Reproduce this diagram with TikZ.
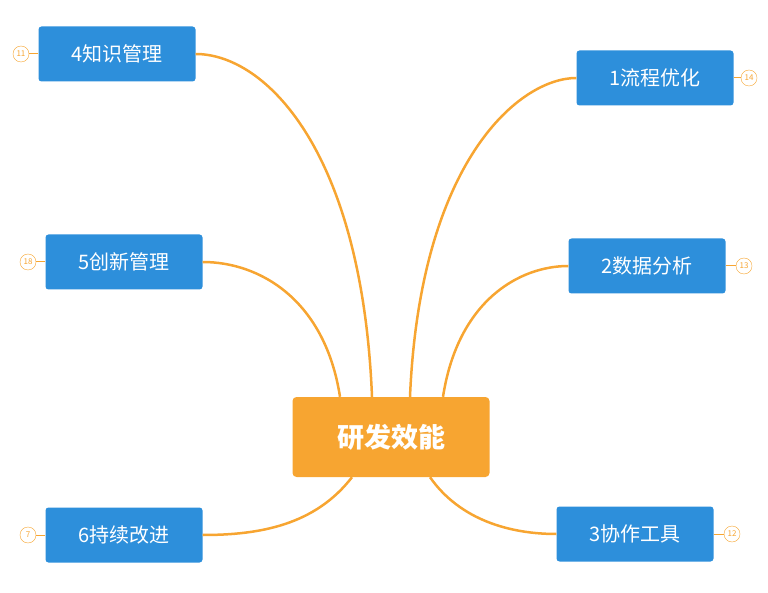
\documentclass[tikz,border=0pt]{standalone}
\usepackage{fontspec}
\setmainfont{Noto Sans CJK SC}
\usetikzlibrary{positioning,calc}
\definecolor{topicblue}{HTML}{2D8FDB}
\definecolor{rootorange}{HTML}{F7A531}
\tikzset{
  topic/.style={fill=topicblue,rounded corners=3pt,text=white,minimum width=157pt,minimum height=55pt,font=\fontsize{20}{22}\selectfont},
  root/.style={fill=rootorange,rounded corners=4pt,text=white,minimum width=197pt,minimum height=80pt,font=\fontsize{27}{30}\selectfont\bfseries},
  badge/.style={circle,draw=rootorange,fill=white,text=rootorange,inner sep=0pt,minimum size=16pt,font=\fontsize{8}{8}\selectfont},
  branch/.style={draw=rootorange,line width=2.5pt},
  tick/.style={draw=rootorange,line width=1pt}
}
\begin{document}
\begin{tikzpicture}[x=1pt,y=-1pt]
  \useasboundingbox (0,0) rectangle (768,593);
  %root
  \node[root] (c) at (391,437) {研发效能};
  %topics
  \node[topic] (t4) at (117,54) {4知识管理};
  \node[topic] (t1) at (655,78) {1流程优化};
  \node[topic] (t5) at (124,262) {5创新管理};
  \node[topic] (t2) at (647,266) {2数据分析};
  \node[topic] (t6) at (124,535) {6持续改进};
  \node[topic] (t3) at (635,534) {3协作工具};
  %badges
  \node[badge] (b4) at (21,54) {11};
  \node[badge] (b1) at (749,78) {14};
  \node[badge] (b5) at (28,262) {18};
  \node[badge] (b2) at (744,266) {13};
  \node[badge] (b6) at (28,535) {7};
  \node[badge] (b3) at (732,534) {12};
  \foreach \t/\b/\s in {t4/b4/west,t5/b5/west,t6/b6/west,t1/b1/east,t2/b2/east,t3/b3/east}
    \draw[tick] (\b) -- (\t.\s);
  %branch ends
  \coordinate (r4) at ($(c.north)+(-19,0)$);
  \coordinate (r1) at ($(c.north)+(19,0)$);
  \coordinate (r5) at ($(c.north)+(-51,0)$);
  \coordinate (r2) at ($(c.north)+(52,0)$);
  \coordinate (r6) at ($(c.south)+(-39,0)$);
  \coordinate (r3) at ($(c.south)+(39,0)$);
  \draw[branch] (r4) .. controls (362,150) and (265,54) .. (t4.east);
  \draw[branch] (r1) .. controls (420,160) and (520,78) .. (t1.west);
  \draw[branch] (r5) .. controls (325,300) and (260,262) .. (t5.east);
  \draw[branch] (r2) .. controls (458,300) and (520,266) .. (t2.west);
  \draw[branch] (r6) .. controls (315,525) and (260,535) .. (t6.east);
  \draw[branch] (r3) .. controls (460,520) and (510,534) .. (t3.west);
\end{tikzpicture}
\end{document}
